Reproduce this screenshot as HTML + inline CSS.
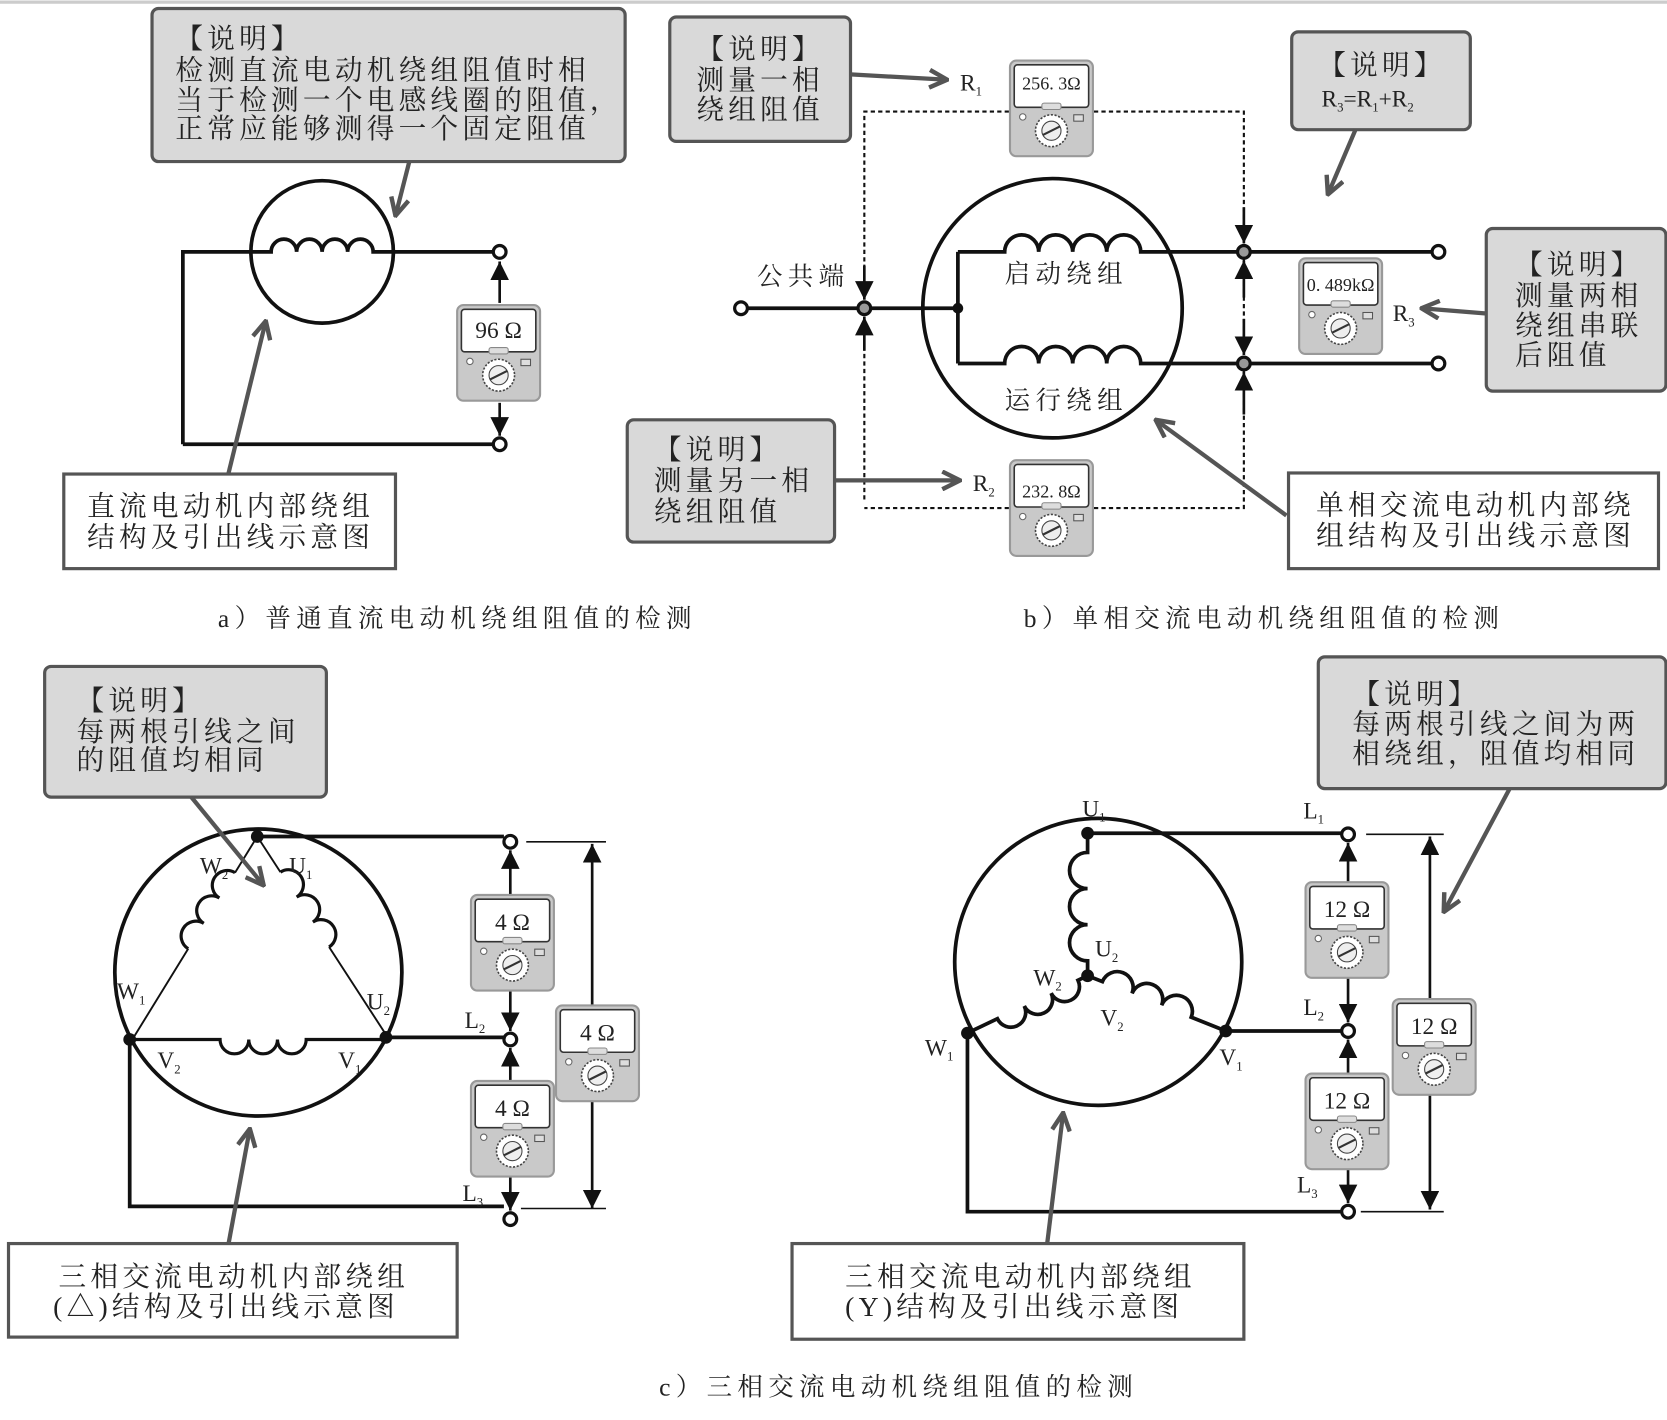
<!DOCTYPE html>
<html><head><meta charset="utf-8"><style>
html,body{margin:0;padding:0;background:#fff}
svg{display:block}
text{font-family:"Liberation Serif","Noto Serif CJK SC",serif;fill:#222}
.cn{font-size:26px;letter-spacing:4px}
.lab{font-size:22px}
.sub{font-size:12px}
</style></head><body>
<svg width="1667" height="1420" viewBox="0 0 1568 1336" preserveAspectRatio="none" xmlns="http://www.w3.org/2000/svg">
<defs>
<marker id="ga" viewBox="0 0 12 12" refX="11" refY="6" markerWidth="5" markerHeight="5" orient="auto" markerUnits="strokeWidth">
<path d="M1,1 L11,6 L1,11" fill="none" stroke="#555" stroke-width="2.5"/></marker>
<marker id="ba" viewBox="0 0 10 10" refX="10" refY="5" markerWidth="7" markerHeight="7" orient="auto" markerUnits="strokeWidth">
<path d="M0,0 L10,5 L0,10 z" fill="#111"/></marker>
<g id="meter">
<rect x="0" y="0" width="78" height="90" rx="6" fill="#c9c9c9" stroke="#999" stroke-width="2"/>
<rect x="4" y="4" width="70" height="40" rx="3" fill="#fff" stroke="#333" stroke-width="1.5"/>
<rect x="30" y="40" width="18" height="6" rx="2" fill="#ddd" stroke="#888"/>
<circle cx="39" cy="66" r="15" fill="#fff" stroke="#444" stroke-width="1.5" stroke-dasharray="2 1.5"/>
<circle cx="39" cy="66" r="9" fill="#eee" stroke="#444"/>
<path d="M31,70 L47,62" stroke="#333" stroke-width="2"/>
<circle cx="12" cy="53" r="3" fill="#fff" stroke="#666"/>
<rect x="60" y="51" width="9" height="6" fill="#ddd" stroke="#555"/>
</g>
</defs>
<line x1="0" y1="2" x2="1568" y2="2" stroke="#ccc" stroke-width="3"/>

<g stroke="#111" stroke-width="3.5" fill="none">
<circle cx="303" cy="237" r="67"/>
<path d="M172,418 V237 H255 a12,12 0 0 1 24,0 a12,12 0 0 1 24,0 a12,12 0 0 1 24,0 a12,12 0 0 1 24,0 H464"/>
<path d="M172,418 H464"/>
<circle cx="990" cy="290" r="122"/>
<path d="M703,290 H901 M901,237 V342 M901,237 H945 a16,16 0 0 1 32,0 a16,16 0 0 1 32,0 a16,16 0 0 1 32,0 a16,16 0 0 1 32,0 H1347 M901,342 H945 a16,16 0 0 1 32,0 a16,16 0 0 1 32,0 a16,16 0 0 1 32,0 a16,16 0 0 1 32,0 H1347"/>
<circle cx="243" cy="915" r="135"/>
<path d="M242,787 H474 M363,976 H474 M122,978 V1135 H474"/>
<circle cx="1033" cy="905" r="135"/>
<path d="M1023,784 H1262 M1153,970 H1262 M910,972 V1140 H1262"/>
</g>
<g stroke="#111" fill="none">
<g transform="translate(242,787) rotate(121.6)"><path stroke-width="1.8" d="M0,0 H40 M124,0 H225"/><path stroke-width="3" d="M40,0 a14,14 0 0 0 28,0 a14,14 0 0 0 28,0 a14,14 0 0 0 28,0"/></g>
<g transform="translate(242,787) rotate(57)"><path stroke-width="1.8" d="M0,0 H40 M124,0 H225"/><path stroke-width="3" d="M40,0 a14,14 0 0 1 28,0 a14,14 0 0 1 28,0 a14,14 0 0 1 28,0"/></g>
<path stroke-width="3" d="M122,978 H207 a13.5,13.5 0 0 0 27,0 a13.5,13.5 0 0 0 27,0 a13.5,13.5 0 0 0 27,0 H363"/>
<g stroke-width="3.5">
<g transform="translate(1023,784) rotate(90)"><path d="M0,0 H18 a17,17 0 0 0 34,0 a17,17 0 0 0 34,0 a17,17 0 0 0 34,0 H134"/></g>
<g transform="translate(1023,918) rotate(154.5)"><path d="M0,0 H10 a14,14 0 0 1 28,0 a14,14 0 0 1 28,0 a14,14 0 0 1 28,0 H125"/></g>
<g transform="translate(1023,918) rotate(21.8)"><path d="M0,0 H15 a15,15 0 0 1 30,0 a15,15 0 0 1 30,0 a15,15 0 0 1 30,0 H140"/></g>
</g>
</g>
<path d="M813,470 V105 H1170 V478 H813" fill="none" stroke="#111" stroke-width="2" stroke-dasharray="4 3"/>

<g stroke="#111" stroke-width="2.5" marker-end="url(#ba)">
<line x1="470" y1="285" x2="470" y2="246"/><line x1="470" y1="379" x2="470" y2="410"/>
<line x1="813" y1="250" x2="813" y2="282"/><line x1="813" y1="330" x2="813" y2="298"/>
<line x1="1170" y1="195" x2="1170" y2="229"/><line x1="1170" y1="280" x2="1170" y2="245"/>
<line x1="1170" y1="300" x2="1170" y2="334"/><line x1="1170" y1="390" x2="1170" y2="350"/>
<line x1="480" y1="842" x2="480" y2="800"/><line x1="480" y1="932" x2="480" y2="970"/>
<line x1="480" y1="1017" x2="480" y2="986"/><line x1="480" y1="1107" x2="480" y2="1139"/>
<line x1="557" y1="1000" x2="557" y2="794"/><line x1="557" y1="1000" x2="557" y2="1137"/>
<line x1="1268" y1="830" x2="1268" y2="793"/><line x1="1268" y1="920" x2="1268" y2="962"/>
<line x1="1268" y1="1010" x2="1268" y2="978"/><line x1="1268" y1="1100" x2="1268" y2="1132"/>
<line x1="1345" y1="960" x2="1345" y2="787"/><line x1="1345" y1="960" x2="1345" y2="1138"/>
</g>
<g stroke="#111" stroke-width="1.5">
<line x1="495" y1="792" x2="570" y2="792"/><line x1="490" y1="1137" x2="570" y2="1137"/>
<line x1="1285" y1="785" x2="1358" y2="785"/><line x1="1280" y1="1140" x2="1358" y2="1140"/>
</g>

<g fill="#fff" stroke="#111" stroke-width="3">
<circle cx="470" cy="237" r="6"/><circle cx="470" cy="418" r="6"/>
<circle cx="697" cy="290" r="6"/><circle cx="1353" cy="237" r="6"/><circle cx="1353" cy="342" r="6"/>
<circle cx="480" cy="792" r="6"/><circle cx="480" cy="978" r="6"/><circle cx="480" cy="1147" r="6"/>
<circle cx="1268" cy="785" r="6"/><circle cx="1268" cy="970" r="6"/><circle cx="1268" cy="1140" r="6"/>
</g>
<g fill="#999" stroke="#111" stroke-width="3">
<circle cx="813" cy="290" r="6"/><circle cx="1170" cy="237" r="6"/><circle cx="1170" cy="342" r="6"/>
</g>
<g fill="#111">
<circle cx="901" cy="290" r="5"/><circle cx="242" cy="787" r="6"/><circle cx="122" cy="978" r="6"/><circle cx="363" cy="976" r="6"/>
<circle cx="1023" cy="784" r="6"/><circle cx="1023" cy="918" r="6"/><circle cx="910" cy="972" r="6"/><circle cx="1153" cy="970" r="6"/>
</g>

<g fill="#d9d9d9" stroke="#555" stroke-width="3">
<rect x="143" y="8" width="445" height="144" rx="6"/>
<rect x="630" y="16" width="170" height="117" rx="6"/>
<rect x="1215" y="30" width="168" height="92" rx="6"/>
<rect x="1398" y="215" width="169" height="153" rx="6"/>
<rect x="590" y="395" width="195" height="115" rx="6"/>
<rect x="42" y="627" width="265" height="123" rx="6"/>
<rect x="1240" y="618" width="327" height="124" rx="6"/>
</g>
<g fill="#fff" stroke="#555" stroke-width="3">
<rect x="60" y="446" width="312" height="89"/>
<rect x="1212" y="445" width="348" height="90"/>
<rect x="8" y="1170" width="422" height="88"/>
<rect x="745" y="1170" width="425" height="90"/>
</g>

<g stroke="#555" stroke-width="4" marker-end="url(#ga)">
<line x1="385" y1="152" x2="372" y2="203"/>
<line x1="215" y1="445" x2="250" y2="302"/>
<line x1="800" y1="70" x2="891" y2="75"/>
<line x1="1275" y1="122" x2="1249" y2="183"/>
<line x1="1398" y1="295" x2="1337" y2="290"/>
<line x1="785" y1="452" x2="903" y2="452"/>
<line x1="1210" y1="485" x2="1087" y2="395"/>
<line x1="180" y1="750" x2="248" y2="833"/>
<line x1="1420" y1="742" x2="1358" y2="858"/>
<line x1="215" y1="1170" x2="235" y2="1062"/>
<line x1="985" y1="1170" x2="1000" y2="1047"/>
</g>

<use href="#meter" x="430" y="287"/>
<use href="#meter" x="950" y="57"/>
<use href="#meter" x="1222" y="243"/>
<use href="#meter" x="950" y="433"/>
<use href="#meter" x="443" y="842"/>
<use href="#meter" x="443" y="1017"/>
<use href="#meter" x="523" y="946"/>
<use href="#meter" x="1228" y="830"/>
<use href="#meter" x="1228" y="1010"/>
<use href="#meter" x="1310" y="940"/>
<g text-anchor="middle">
<text x="469" y="318" font-size="22">96 Ω</text>
<text x="989" y="84" font-size="17">256. 3Ω</text>
<text x="1261" y="274" font-size="17">0. 489kΩ</text>
<text x="989" y="468" font-size="17">232. 8Ω</text>
<text x="482" y="875" font-size="22">4 Ω</text>
<text x="482" y="1050" font-size="22">4 Ω</text>
<text x="562" y="979" font-size="22">4 Ω</text>
<text x="1267" y="863" font-size="22">12 Ω</text>
<text x="1267" y="1043" font-size="22">12 Ω</text>
<text x="1349" y="973" font-size="22">12 Ω</text>
</g>

<g class="cn">
<text x="165" y="45">【说明】</text>
<text x="165" y="75">检测直流电动机绕组阻值时相</text>
<text x="165" y="103">当于检测一个电感线圈的阻值，</text>
<text x="165" y="130">正常应能够测得一个固定阻值</text>
<text x="82" y="485">直流电动机内部绕组</text>
<text x="82" y="514">结构及引出线示意图</text>
<text x="655" y="55">【说明】</text>
<text x="655" y="84">测量一相</text>
<text x="655" y="112">绕组阻值</text>
<text x="1240" y="70">【说明】</text>
<text x="1425" y="258">【说明】</text>
<text x="1425" y="287">测量两相</text>
<text x="1425" y="315">绕组串联</text>
<text x="1425" y="343">后阻值</text>
<text x="615" y="432">【说明】</text>
<text x="615" y="461">测量另一相</text>
<text x="615" y="490">绕组阻值</text>
<text x="1238" y="484">单相交流电动机内部绕</text>
<text x="1238" y="513">组结构及引出线示意图</text>
<text x="712" y="268" font-size="24" letter-spacing="5">公共端</text>
<text x="945" y="266" font-size="24" letter-spacing="5">启动绕组</text>
<text x="945" y="385" font-size="24" letter-spacing="5">运行绕组</text>
<text x="72" y="668">【说明】</text>
<text x="72" y="697">每两根引线之间</text>
<text x="72" y="724">的阻值均相同</text>
<text x="1272" y="662">【说明】</text>
<text x="1272" y="690">每两根引线之间为两</text>
<text x="1272" y="718">相绕组，阻值均相同</text>
<text x="55" y="1210">三相交流电动机内部绕组</text>
<text x="50" y="1238">(△)结构及引出线示意图</text>
<text x="795" y="1210">三相交流电动机内部绕组</text>
<text x="795" y="1238">(Y)结构及引出线示意图</text>
<text x="205" y="590" font-size="24" letter-spacing="5">a）普通直流电动机绕组阻值的检测</text>
<text x="963" y="590" font-size="24" letter-spacing="5">b）单相交流电动机绕组阻值的检测</text>
<text x="620" y="1313" font-size="24" letter-spacing="5">c）三相交流电动机绕组阻值的检测</text>
</g>
<g class="lab">
<text x="1243" y="100">R<tspan class="sub" dy="5">3</tspan><tspan dy="-5">=R</tspan><tspan class="sub" dy="5">1</tspan><tspan dy="-5">+R</tspan><tspan class="sub" dy="5">2</tspan></text>
<text x="903" y="85">R<tspan class="sub" dy="5">1</tspan></text>
<text x="915" y="462">R<tspan class="sub" dy="5">2</tspan></text>
<text x="1310" y="302">R<tspan class="sub" dy="5">3</tspan></text>
<text x="188" y="822">W<tspan class="sub" dy="5">2</tspan></text>
<text x="272" y="822">U<tspan class="sub" dy="5">1</tspan></text>
<text x="110" y="940">W<tspan class="sub" dy="5">1</tspan></text>
<text x="345" y="950">U<tspan class="sub" dy="5">2</tspan></text>
<text x="148" y="1005">V<tspan class="sub" dy="5">2</tspan></text>
<text x="318" y="1005">V<tspan class="sub" dy="5">1</tspan></text>
<text x="437" y="967">L<tspan class="sub" dy="5">2</tspan></text>
<text x="435" y="1130">L<tspan class="sub" dy="5">3</tspan></text>
<text x="1018" y="768">U<tspan class="sub" dy="5">1</tspan></text>
<text x="1030" y="900">U<tspan class="sub" dy="5">2</tspan></text>
<text x="972" y="927">W<tspan class="sub" dy="5">2</tspan></text>
<text x="1035" y="965">V<tspan class="sub" dy="5">2</tspan></text>
<text x="1147" y="1002">V<tspan class="sub" dy="5">1</tspan></text>
<text x="870" y="993">W<tspan class="sub" dy="5">1</tspan></text>
<text x="1226" y="770">L<tspan class="sub" dy="5">1</tspan></text>
<text x="1226" y="955">L<tspan class="sub" dy="5">2</tspan></text>
<text x="1220" y="1122">L<tspan class="sub" dy="5">3</tspan></text>
</g>
</svg>
</body></html>
